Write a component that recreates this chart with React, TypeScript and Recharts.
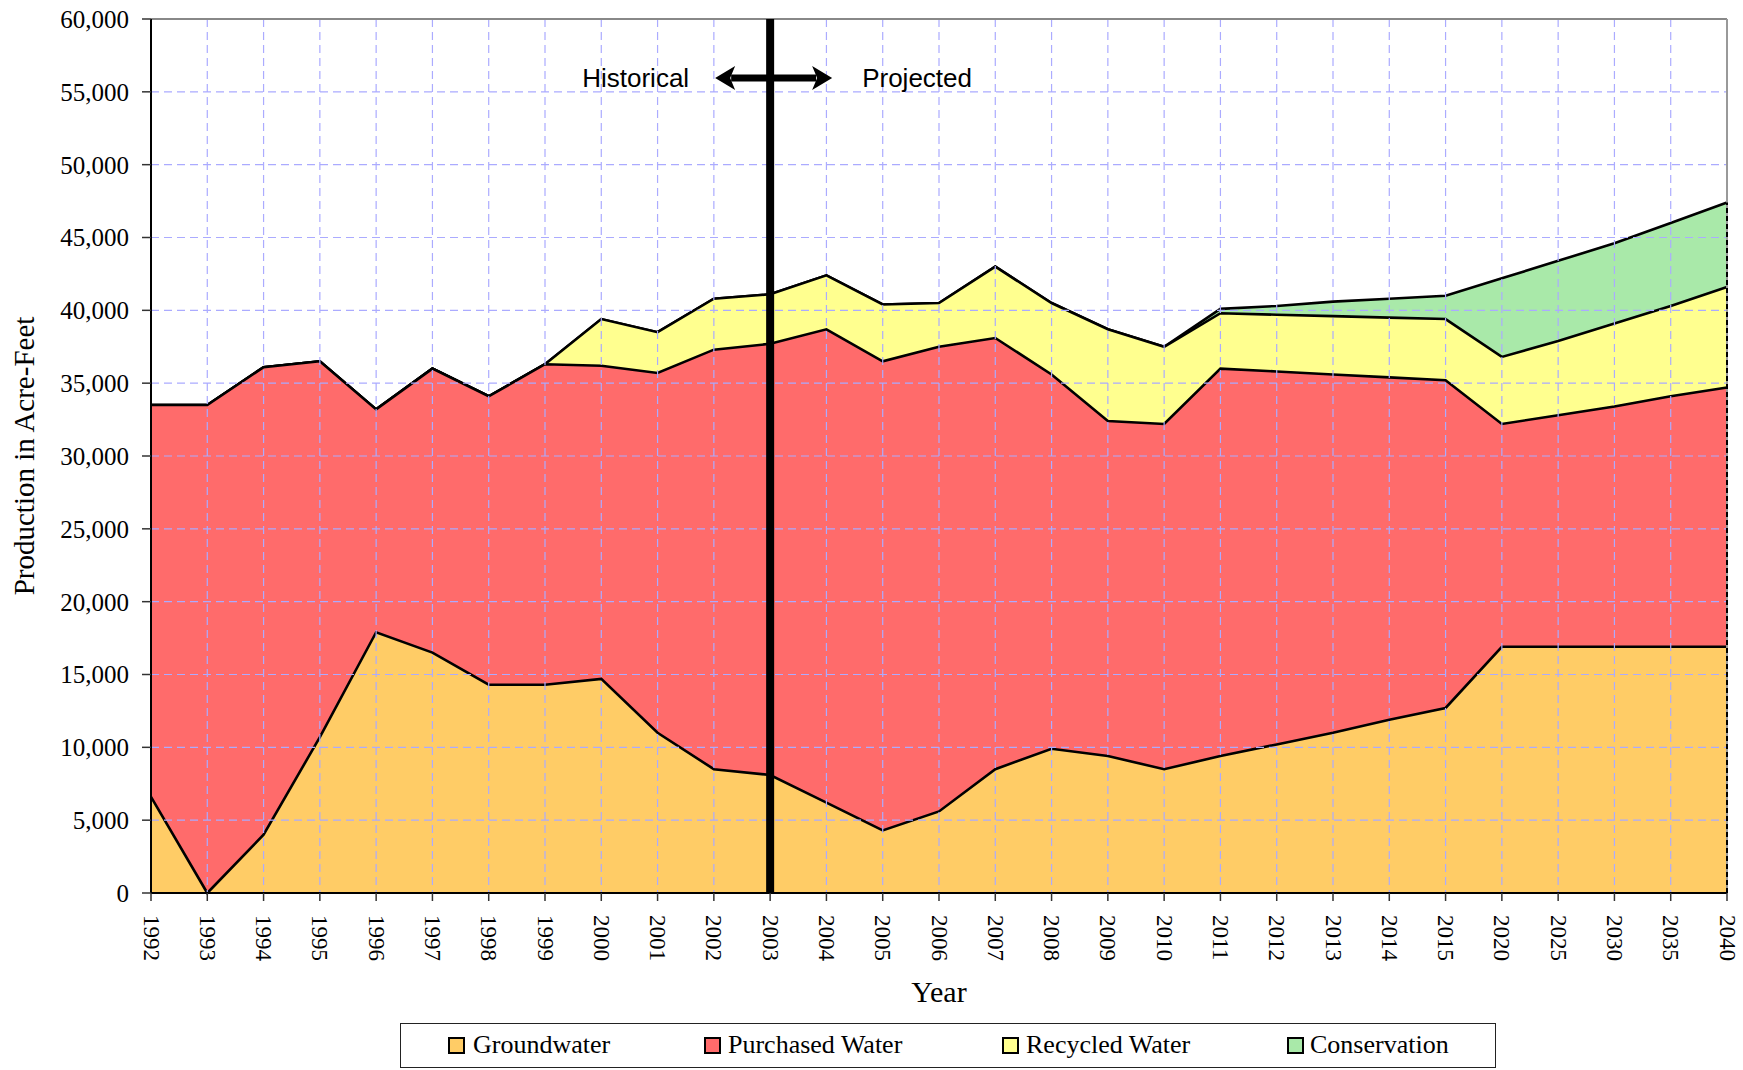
import React from 'react';
import { AreaChart, Area, XAxis, YAxis, CartesianGrid, ReferenceLine } from 'recharts';

const years = ['1992','1993','1994','1995','1996','1997','1998','1999','2000','2001','2002','2003','2004','2005','2006','2007','2008','2009','2010','2011','2012','2013','2014','2015','2020','2025','2030','2035','2040'];
const groundwater = [6600,0,4000,10700,17900,16500,14300,14300,14700,11000,8500,8100,6200,4300,5600,8500,9900,9400,8500,9400,10200,11000,11900,12700,16900,16900,16900,16900,16900];
const purchased = [26900,33500,32100,25800,15300,19500,19800,22000,21500,24700,28800,29600,32500,32200,31900,29600,25700,23000,23700,26600,25600,24600,23500,22500,15300,15900,16500,17200,17800];
const recycled = [0,0,0,0,0,0,0,0,3200,2800,3500,3400,3700,3900,3000,4900,4900,6300,5300,3800,3900,4000,4100,4200,4600,5100,5700,6200,6900];
const conservation = [0,0,0,0,0,0,0,0,0,0,0,0,0,0,0,0,0,0,0,300,600,1000,1300,1600,5400,5500,5500,5700,5800];
const yTicks = [0,5000,10000,15000,20000,25000,30000,35000,40000,45000,50000,55000,60000];

const seriesNames = ['Groundwater','Purchased Water','Recycled Water','Conservation'];
const seriesColors = ['#FFCC66','#FF6B6B','#FFFF8F','#A9E9A9'];

const data = years.map((year, i) => ({
  year,
  groundwater: groundwater[i],
  purchased: purchased[i],
  recycled: recycled[i],
  conservation: conservation[i],
}));

const SERIF = "'Times New Roman', 'Liberation Serif', serif";
const SANS = "Arial, 'Liberation Sans', sans-serif";
const GRID = '#ABABFF';

const XTick = (props: any) => {
  const { x, y, payload } = props;
  return (
    <text x={x} y={y} transform={`rotate(90, ${x}, ${y})`} textAnchor="start" dominantBaseline="central" fontSize={23} fontFamily={SERIF} fill="#000">
      {payload.value}
    </text>
  );
};

const YTitle = (props: any) => {
  const vb = props.viewBox || { x: 0, y: 19, width: 151, height: 874 };
  const cx = vb.x + 24;
  const cy = vb.y + vb.height / 2;
  return (
    <text x={cx} y={cy} transform={`rotate(-90, ${cx}, ${cy})`} textAnchor="middle" dominantBaseline="central" fontSize={29} fontFamily={SERIF} fill="#000">
      Production in Acre-Feet
    </text>
  );
};

const XTitle = (props: any) => {
  const vb = props.viewBox || { x: 151, y: 893, width: 1576, height: 177 };
  return (
    <text x={vb.x + vb.width / 2} y={vb.y + 98} textAnchor="middle" dominantBaseline="central" fontSize={30} fontFamily={SERIF} fill="#000">
      Year
    </text>
  );
};

const Divider = (props: any) => {
  const vb = props.viewBox || { x: 770, y: 19 };
  const x = vb.x;
  const y = vb.y + 59;
  const l = x - 55;
  const r = x + 62;
  return (
    <g>
      <line x1={l + 16} y1={y} x2={r - 16} y2={y} stroke="#000" strokeWidth={7} />
      <polygon points={`${l},${y} ${l + 20},${y - 12} ${l + 15},${y} ${l + 20},${y + 12}`} fill="#000" />
      <polygon points={`${r},${y} ${r - 20},${y - 12} ${r - 15},${y} ${r - 20},${y + 12}`} fill="#000" />
      <text x={x - 81} y={y} textAnchor="end" dominantBaseline="central" fontSize={26} fontFamily={SANS} fill="#000">Historical</text>
      <text x={x + 92} y={y} textAnchor="start" dominantBaseline="central" fontSize={26} fontFamily={SANS} fill="#000">Projected</text>
    </g>
  );
};

const legendSquares = [47, 303, 601, 886];
const legendTexts = [72, 327, 625, 909];

export default function App() {
  const last = years[years.length - 1];
  const total = groundwater[years.length - 1] + purchased[years.length - 1] + recycled[years.length - 1] + conservation[years.length - 1];
  return (
    <div style={{ position: 'absolute', left: 0, top: 0, width: 1743, height: 1070, background: '#fff' }}>
      <AreaChart width={1743} height={1070} data={data} margin={{ top: 19, right: 16, bottom: 0, left: 0 }}>
        <XAxis
          dataKey="year"
          height={177}
          interval={0}
          tickSize={8}
          tickMargin={14}
          tick={<XTick />}
          axisLine={{ stroke: '#000', strokeWidth: 2 }}
          tickLine={{ stroke: '#333', strokeWidth: 1.5 }}
          label={{ content: <XTitle /> }}
          zIndex={700}
        />
        <YAxis
          width={151}
          domain={[0, 60000]}
          ticks={yTicks}
          interval={0}
          tickSize={9}
          tickMargin={13}
          tickFormatter={(v: number) => v.toLocaleString('en-US')}
          tick={{ fontSize: 25, fontFamily: SERIF, fill: '#000' }}
          axisLine={{ stroke: '#000', strokeWidth: 2 }}
          tickLine={{ stroke: '#333', strokeWidth: 1.5 }}
          label={{ content: <YTitle /> }}
          zIndex={700}
        />
        <Area type="linear" dataKey="groundwater" name={seriesNames[0]} stackId="1" stroke="#000" strokeWidth={2.6} fill={seriesColors[0]} fillOpacity={1} dot={false} activeDot={false} isAnimationActive={false} zIndex={104} />
        <Area type="linear" dataKey="purchased" name={seriesNames[1]} stackId="1" stroke="#000" strokeWidth={2.6} fill={seriesColors[1]} fillOpacity={1} dot={false} activeDot={false} isAnimationActive={false} zIndex={103} />
        <Area type="linear" dataKey="recycled" name={seriesNames[2]} stackId="1" stroke="#000" strokeWidth={2.6} fill={seriesColors[2]} fillOpacity={1} dot={false} activeDot={false} isAnimationActive={false} zIndex={102} />
        <Area type="linear" dataKey="conservation" name={seriesNames[3]} stackId="1" stroke="#000" strokeWidth={2.6} fill={seriesColors[3]} fillOpacity={1} dot={false} activeDot={false} isAnimationActive={false} zIndex={101} />
        <CartesianGrid stroke={GRID} strokeDasharray="8 5" strokeWidth={1.2} horizontalValues={yTicks} zIndex={150} />
        <ReferenceLine y={60000} stroke="#888" strokeWidth={2} zIndex={600} />
        <ReferenceLine x={last} stroke="#999" strokeWidth={2} zIndex={600} />
        <ReferenceLine segment={[{ x: last, y: 0 }, { x: last, y: total }]} stroke="#000" strokeWidth={2} strokeDasharray="5 3" zIndex={610} />
        <ReferenceLine x="2003" stroke="#000" strokeWidth={8} label={{ content: <Divider /> }} zIndex={800} />
      </AreaChart>
      <div style={{ position: 'absolute', left: 400, top: 1023, width: 1096, height: 45, border: '1.5px solid #222', boxSizing: 'border-box', background: '#fff', fontFamily: SERIF, fontSize: 26 }}>
        {seriesNames.map((name, i) => (
          <React.Fragment key={name}>
            <div style={{ position: 'absolute', left: legendSquares[i], top: 13, width: 17, height: 17, boxSizing: 'border-box', border: '2px solid #000', background: seriesColors[i] }} />
            <div style={{ position: 'absolute', left: legendTexts[i], top: 3, lineHeight: '36px', whiteSpace: 'nowrap' }}>{name}</div>
          </React.Fragment>
        ))}
      </div>
    </div>
  );
}
